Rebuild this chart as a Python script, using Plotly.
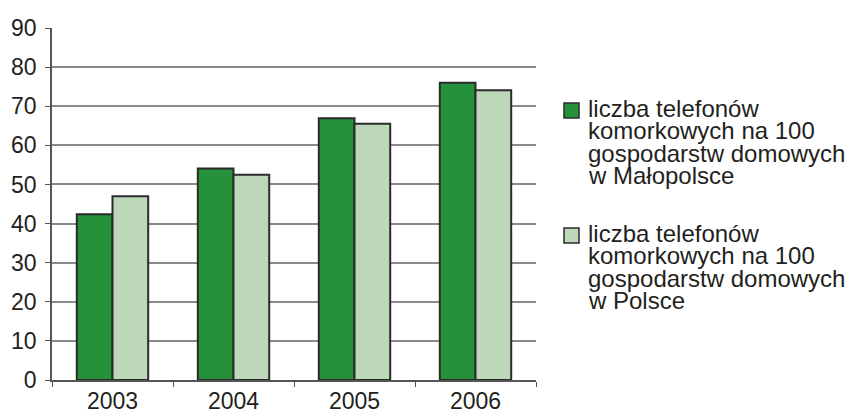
import plotly.graph_objects as go

# Mobile phones per 100 households
years = ["2003", "2004", "2005", "2006"]
malopolska = [42.4, 54.1, 66.9, 76.0]
polska = [47.0, 52.5, 65.5, 74.1]

legend_malopolska = ["liczba telefonów", "komorkowych na 100", "gospodarstw domowych", "w Małopolsce"]
legend_polska = ["liczba telefonów", "komorkowych na 100", "gospodarstw domowych", "w Polsce"]

y_ticks = [0, 10, 20, 30, 40, 50, 60, 70, 80, 90]

dark_green = "#25913b"
light_green = "#bcd8b8"
edge = "#2b2b2b"
text_color = "#231f20"
font_family = "Liberation Sans, Arial, sans-serif"

fig = go.Figure()
fig.add_trace(go.Bar(
    x=years, y=malopolska, name=" ".join(legend_malopolska),
    marker=dict(color=dark_green, line=dict(color=edge, width=2)),
))
fig.add_trace(go.Bar(
    x=years, y=polska, name=" ".join(legend_polska),
    marker=dict(color=light_green, line=dict(color=edge, width=2)),
))

W, H = 850, 412
L, R, T, B = 52, 314, 28, 32
pw, ph = W - L - R, H - T - B


def px_x(px):
    return (px - L) / pw


def px_y(py):
    return (H - B - py) / ph


# Legend drawn as a key square plus tightly spaced text lines
shapes = []
annotations = []
legend_items = [(dark_green, legend_malopolska, 103), (light_green, legend_polska, 228)]
line_step = 22.3
for color, lines, top in legend_items:
    shapes.append(dict(
        type="rect", xref="paper", yref="paper",
        x0=px_x(564), x1=px_x(579), y0=px_y(top), y1=px_y(top + 15),
        fillcolor=color, line=dict(color=edge, width=1.5),
    ))
    for i, line in enumerate(lines):
        baseline = top + 13.5 + i * line_step
        annotations.append(dict(
            xref="paper", yref="paper",
            x=px_x(586), xanchor="left",
            y=px_y(baseline - 8), yanchor="middle",
            text=line, showarrow=False,
            font=dict(size=24, family=font_family, color=text_color),
        ))

fig.update_layout(
    width=W, height=H,
    margin=dict(l=L, r=R, t=T, b=B),
    paper_bgcolor="white", plot_bgcolor="white",
    barmode="group", bargap=0.41, bargroupgap=0,
    font=dict(family=font_family, color=text_color),
    showlegend=False,
    shapes=shapes,
    annotations=annotations,
)

fig.update_xaxes(
    type="category", showgrid=False,
    showline=True, linecolor="#555555", linewidth=1.5,
    ticks="outside", tickson="boundaries", ticklen=5, tickcolor="#555555",
    tickfont=dict(size=23, family=font_family, color=text_color),
    automargin=False,
)
fig.update_yaxes(
    range=[0, 90], tickvals=y_ticks,
    showgrid=True, gridcolor="#8a8a8a", gridwidth=1.5,
    zeroline=False,
    showline=True, linecolor="#555555", linewidth=1.5,
    ticks="outside", ticklen=5, tickcolor="#555555",
    ticklabelstandoff=4,
    tickfont=dict(size=23, family=font_family, color=text_color),
    automargin=False,
)

fig.write_html("out.html")
